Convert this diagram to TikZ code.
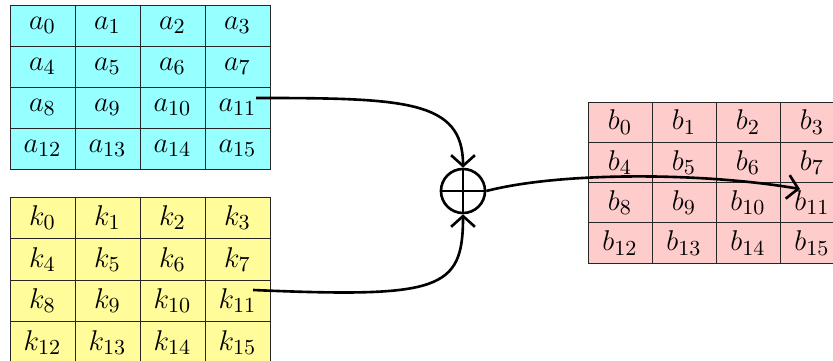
\documentclass[tikz,border=0pt]{standalone}
\usetikzlibrary{arrows.meta}
\definecolor{fillA}{RGB}{150,255,255}
\definecolor{fillK}{RGB}{255,252,153}
\definecolor{fillB}{RGB}{255,204,204}
\begin{document}
\begin{tikzpicture}[x=0.42pt,y=-0.42pt,
  cellbase/.style={draw=black!85, line width=0.4pt, inner sep=0pt, font=\fontsize{12.5}{15}\selectfont},
  cellA/.style={cellbase, minimum width=27.3pt, minimum height=17.22pt},
  cellK/.style={cellbase, minimum width=27.3pt, minimum height=17.43pt},
  cellB/.style={cellbase, minimum width=26.88pt, minimum height=16.93pt},
  arr/.style={line width=1.1pt, -{Straight Barb[length=4.5pt,width=10pt,line width=1.1pt]}},
  xorc/.style={circle, draw, line width=1.1pt, minimum size=18.5pt, inner sep=0pt}]
\useasboundingbox (0,0) rectangle (833,361);
\clip (0,0) rectangle (833,361);
% backgrounds
\fill[fillA] (10,5) rectangle (270,169);
\fill[fillK] (10,197) rectangle (270,363);
\fill[fillB] (588,102) rectangle (844,263);
\foreach \i in {0,...,15} {
  \pgfmathtruncatemacro\r{floor(\i/4)}
  \pgfmathtruncatemacro\c{mod(\i,4)}
  \node[cellA] (a\i) at ({42.5+65*\c},{25.5+41*\r}) {$a_{\i}$};
  \node[cellK] (k\i) at ({42.5+65*\c},{217.75+41.5*\r}) {$k_{\i}$};
  \node[cellB] (b\i) at ({620+64*\c},{122.15+40.3*\r}) {$b_{\i}$};
}
\node[xorc] (x) at (463,191) {};
\draw[line width=1.1pt] (x.north) -- (x.south) (x.west) -- (x.east);
\coordinate (sa) at (256,98);
\coordinate (sk) at (253,290);
\coordinate (ob) at (800,189);
\draw[arr] (sa) .. controls (405,98) and (463,100) .. (x.north);
\draw[arr] (sk) .. controls (440,298) and (463,290) .. (x.south);
\draw[arr] (x.east) .. controls (560,172) and (700,172) .. (ob);
\end{tikzpicture}
\end{document}
